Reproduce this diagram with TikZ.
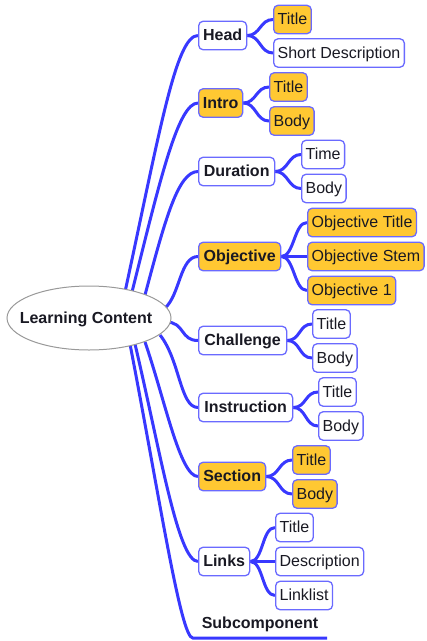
\documentclass[tikz,border=0pt]{standalone}
\usepackage{fontspec}
\setmainfont{Liberation Sans}
\usetikzlibrary{calc,backgrounds,shapes.geometric}
\definecolor{edgeblue}{RGB}{56,56,255}
\definecolor{boxblue}{RGB}{106,106,255}
\definecolor{orfill}{RGB}{255,200,50}
\definecolor{txt}{RGB}{25,25,35}
\begin{document}
\begin{tikzpicture}[x=1pt,y=-1pt,
  mmbox/.style={draw=boxblue, line width=1.3pt, rounded corners=4.5pt, fill=white,
    minimum height=28.5pt, inner xsep=4pt, inner ysep=0pt, text height=12pt,
    text depth=2pt, anchor=west, text=txt, font=\fontsize{16}{19}\selectfont},
  lone/.style={mmbox, font=\fontsize{16}{19}\selectfont\bfseries},
  ltwo/.style={mmbox},
  hot/.style={fill=orfill},
  edge/.style={draw=edgeblue, line width=3pt}]
\useasboundingbox (0,0) rectangle (427,641);

\node[ellipse, draw=black!40, line width=1pt, fill=white, minimum width=164pt,
  minimum height=64pt, inner sep=0pt] (root) at (89,318) {};
\node[inner sep=0pt, text height=12pt, text depth=2pt, text=txt,
  font=\fontsize{16}{19}\selectfont\bfseries] (rootlabel) at (86,318) {Learning Content};

% level 1
\node[lone, minimum width=48pt] (head) at (198,35.5) {Head};
\node[lone, hot, minimum width=44pt] (intro) at (198,103) {Intro};
\node[lone, minimum width=76pt] (dur) at (198,171.5) {Duration};
\node[lone, hot, minimum width=82pt] (obj) at (198,256.5) {Objective};
\node[lone, minimum width=88pt] (chal) at (198,340.5) {Challenge};
\node[lone, minimum width=94pt] (instr) at (198,407.5) {Instruction};
\node[lone, hot, minimum width=67pt] (sect) at (198,476.5) {Section};
\node[lone, minimum width=51pt] (links) at (198,561.5) {Links};
\node[anchor=south, minimum width=134pt, inner xsep=0pt, inner ysep=7pt,
  text height=12pt, text depth=2pt, text=txt,
  font=\fontsize{16}{19}\selectfont\bfseries] (sub) at (260,638) {Subcomponent};

% level 2
\node[ltwo, hot] (h1) at (273,19.5) {Title};
\node[ltwo] (h2) at (273,53) {Short Description};
\node[ltwo, hot] (i1) at (269,87) {Title};
\node[ltwo, hot] (i2) at (269,121) {Body};
\node[ltwo] (d1) at (301,154.5) {Time};
\node[ltwo] (d2) at (301,188.5) {Body};
\node[ltwo, hot] (o1) at (307,222.5) {Objective Title};
\node[ltwo, hot] (o2) at (307,256.5) {Objective Stem};
\node[ltwo, hot] (o3) at (307,290.5) {Objective 1};
\node[ltwo] (c1) at (312,324) {Title};
\node[ltwo] (c2) at (312,358) {Body};
\node[ltwo] (n1) at (318,392) {Title};
\node[ltwo] (n2) at (318,426) {Body};
\node[ltwo, hot] (s1) at (292,460) {Title};
\node[ltwo, hot] (s2) at (292,494) {Body};
\node[ltwo] (k1) at (275,527.5) {Title};
\node[ltwo] (k2) at (275,561.5) {Description};
\node[ltwo] (k3) at (275,595.5) {Linklist};

\begin{scope}[on background layer]
\draw[edge] ($(root.center)+(36,-26)$) .. controls +(35,-162) and +(-22,0) .. (head.west);
\draw[edge] ($(root.center)+(43,-26)$) .. controls +(28,-112) and +(-20,0) .. (intro.west);
\draw[edge] ($(root.center)+(56,-23)$) .. controls +(20,-75) and +(-20,0) .. (dur.west);
\draw[edge] ($(root.center)+(76,-10)$) .. controls +(15,-13) and +(-18,0) .. (obj.west);
\draw[edge] ($(root.center)+(77,4)$) .. controls +(19,0) and +(-18,0) .. (chal.west);
\draw[edge] ($(root.center)+(71,17)$) .. controls +(20,25) and +(-18,0) .. (instr.west);
\draw[edge] ($(root.center)+(56,24)$) .. controls +(20,58) and +(-18,0) .. (sect.west);
\draw[edge] ($(root.center)+(46,26)$) .. controls +(25,106) and +(-20,0) .. (links.west);
\draw[edge] ($(root.center)+(41,26)$) .. controls +(30,156) and +(-12,0) .. (sub.south west) -- (sub.south east);

\foreach \p/\c in {head/h1,head/h2,intro/i1,intro/i2,dur/d1,dur/d2,obj/o1,obj/o2,obj/o3,
  chal/c1,chal/c2,instr/n1,instr/n2,sect/s1,sect/s2,links/k1,links/k2,links/k3}
  \draw[edge] (\p.east) .. controls +(13,0) and +(-13,0) .. (\c.west);
\end{scope}
\end{tikzpicture}
\end{document}
